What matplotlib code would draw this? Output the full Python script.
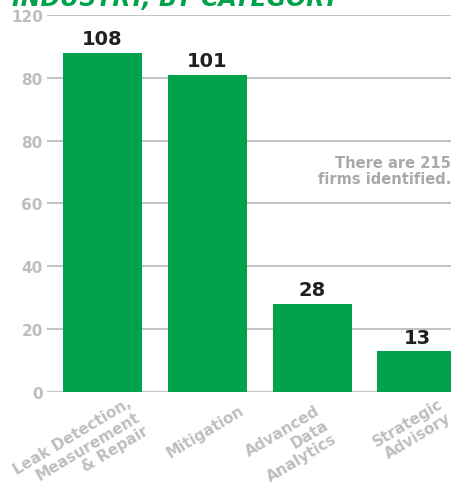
import matplotlib.pyplot as plt
from matplotlib.transforms import ScaledTranslation

# firms by category
categories = ["Leak Detection,\nMeasurement\n& Repair", "Mitigation",
              "Advanced\nData\nAnalytics", "Strategic\nAdvisory"]
firm_counts = [108, 101, 28, 13]
y_ticks = [0, 20, 40, 60, 80, 100, 120]
y_tick_labels = ["0", "20", "40", "60", "80", "80", "120"]

GREEN = "#00a34b"
GRID = "#c2c3c6"
LIGHT = "#bcbec0"
NOTE = "#a7a9ac"
INK = "#231f20"

plt.rcParams["font.family"] = ["DejaVu Sans"]

W, H = 451, 485
fig = plt.figure(figsize=(W / 100, H / 100), dpi=100)
ax = fig.add_axes([47 / W, 92.3 / H, (W - 47) / W, (469 - 92.3) / H])

x = range(len(firm_counts))
ax.bar(x, firm_counts, width=0.754, color=GREEN, zorder=3)

for i, v in enumerate(firm_counts):
    ax.annotate(str(v), (i, v), xytext=(0, 6), textcoords="offset points",
                ha="center", va="baseline", fontsize=14, fontweight="heavy",
                color=INK, zorder=4)

ax.set_xlim(-0.53, 3.325)
ax.set_ylim(0, 120)
ax.set_yticks(y_ticks)
ax.set_yticklabels(y_tick_labels, fontsize=11, fontweight="heavy", color=LIGHT)
ax.tick_params(axis="y", length=0, pad=3)
ax.set_xticks([])
ax.grid(axis="y", color=GRID, linewidth=1.5, zorder=0)
ax.set_axisbelow(True)
for s in ax.spines.values():
    s.set_visible(False)

# rotated category labels, nudged under each bar (pixels)
shifts = [(-22, -58), (-2, -39), (-21, -53), (-5, -38)]
for i, (lab, (dx, dy)) in enumerate(zip(categories, shifts)):
    tr = ax.get_xaxis_transform() + ScaledTranslation(dx / 100, dy / 100, fig.dpi_scale_trans)
    ax.text(i, 0, lab, transform=tr, rotation=31, rotation_mode="anchor",
            ha="center", va="center", multialignment="right", linespacing=1.1,
            fontsize=11, fontweight="heavy", color=LIGHT, clip_on=False)

fig.text(1.0, 1 - 156 / H, "There are 215\nfirms identified.", ha="right", va="top",
         fontsize=10.5, fontweight="heavy", color=NOTE, linespacing=1.1)

# headline runs off the top of the canvas
fig.text(12 / W, 1 - 6 / H, "INDUSTRY, BY CATEGORY", ha="left", va="baseline",
         fontsize=17, fontweight="heavy", fontstyle="italic", color=GREEN)

fig.savefig("out.png", dpi=100)
